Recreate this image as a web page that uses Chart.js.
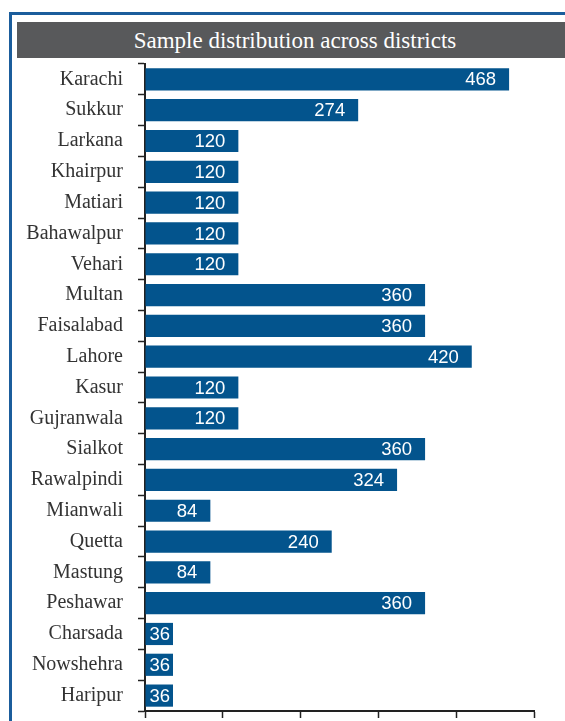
<!DOCTYPE html>
<html>
<head>
<meta charset="utf-8">
<script src="https://cdn.jsdelivr.net/npm/chart.js@4/dist/chart.umd.min.js"></script>
<style>
  html, body { margin: 0; padding: 0; background: #fff; overflow: hidden; width: 565px; height: 721px; }
  #frame { position: absolute; left: 9px; top: 12px; width: 570px; height: 720px;
           border-left: 3px solid #1b5d9c; border-top: 3px solid #1b5d9c; }
  #title { position: absolute; left: 17px; top: 22px; width: 548px; height: 36px;
           background: #58595b; color: #fff; text-align: center; text-indent: 8px;
           font: 23px "Liberation Serif", "DejaVu Serif", serif; line-height: 38px; }
  #wrap { position: absolute; left: 0; top: 0; width: 565px; height: 745px; }
</style>
</head>
<body>
<div id="frame"></div>
<div id="title">Sample distribution across districts</div>
<div id="wrap"><canvas id="chart" width="565" height="745"></canvas></div>
<script>
// districts, top to bottom
var districts = ["Karachi", "Sukkur", "Larkana", "Khairpur", "Matiari", "Bahawalpur", "Vehari",
  "Multan", "Faisalabad", "Lahore", "Kasur", "Gujranwala", "Sialkot", "Rawalpindi", "Mianwali",
  "Quetta", "Mastung", "Peshawar", "Charsada", "Nowshehra", "Haripur"];
var samples = [468, 274, 120, 120, 120, 120, 120, 360, 360, 420, 120, 120, 360, 324, 84,
  240, 84, 360, 36, 36, 36];
var xTicks = [0, 100, 200, 300, 400, 500];

// white value labels just inside the end of each bar
var valueLabels = {
  id: "valueLabels",
  afterDatasetsDraw: function(chart) {
    var ctx = chart.ctx;
    var meta = chart.getDatasetMeta(0);
    ctx.save();
    ctx.font = '18.5px "Liberation Sans", Arial, sans-serif';
    ctx.fillStyle = "#ffffff";
    ctx.textAlign = "right";
    ctx.textBaseline = "middle";
    meta.data.forEach(function(bar, i) {
      var txt = String(samples[i]);
      var w = ctx.measureText(txt).width;
      var right = Math.max(bar.x - 13, bar.base + 4 + w);
      ctx.fillText(txt, right, bar.y + 1);
    });
    ctx.restore();
  }
};

var ctx = document.getElementById("chart").getContext("2d");
var chart = new Chart(ctx, {
  type: "bar",
  data: {
    labels: districts,
    datasets: [{
      data: samples,
      backgroundColor: "#03548d",
      borderWidth: 0,
      categoryPercentage: 1.0,
      barPercentage: 0.72
    }]
  },
  options: {
    indexAxis: "y",
    responsive: false,
    animation: false,
    events: [],
    layout: { padding: { top: 64, right: 31, left: 0, bottom: 0 } },
    plugins: { legend: { display: false }, tooltip: { enabled: false }, title: { display: false } },
    scales: {
      x: {
        min: 0, max: 500,
        afterBuildTicks: function(scale) {
          scale.ticks = xTicks.map(function(v) { return { value: v }; });
        },
        afterFit: function(scale) { scale.height = 34; },
        border: { display: true, color: "#222", width: 2 },
        grid: { drawOnChartArea: false, drawTicks: true, tickLength: 7, tickColor: "#222", tickWidth: 1.5 },
        ticks: { padding: 12, color: "#333", font: { family: '"Liberation Serif", serif', size: 16 } }
      },
      y: {
        afterFit: function(scale) { scale.width = 145; },
        border: { display: true, color: "#222", width: 2 },
        grid: { offset: true, drawOnChartArea: false, drawTicks: true, tickLength: 7, tickColor: "#222", tickWidth: 1.5 },
        ticks: { padding: 15, color: "#333", autoSkip: false,
                 font: { family: '"Liberation Serif", "DejaVu Serif", serif', size: 20 } }
      }
    }
  },
  plugins: [valueLabels]
});
</script>
</body>
</html>
